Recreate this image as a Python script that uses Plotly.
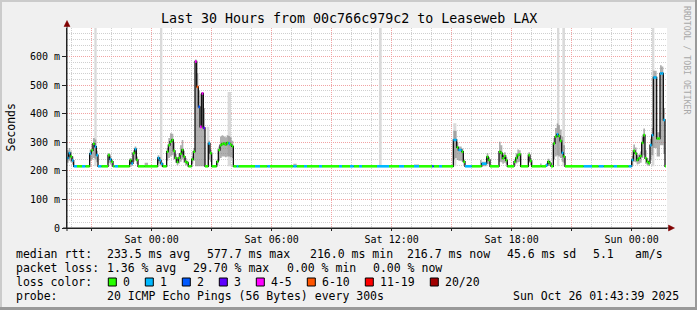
import plotly.graph_objects as go
import pandas as pd

# ---------------- data ----------------
times = [
    "2025-10-24 19:46", "2025-10-24 19:51", "2025-10-24 19:56", "2025-10-24 20:01", "2025-10-24 20:06",
    "2025-10-24 20:16", "2025-10-24 20:31", "2025-10-24 20:41", "2025-10-24 20:54", "2025-10-24 20:59",
    "2025-10-24 21:04", "2025-10-24 21:09", "2025-10-24 21:14", "2025-10-24 21:19", "2025-10-24 21:29",
    "2025-10-24 21:49", "2025-10-24 21:54", "2025-10-24 21:59", "2025-10-24 22:04", "2025-10-24 22:09",
    "2025-10-24 22:19", "2025-10-24 22:54", "2025-10-24 22:59", "2025-10-24 23:04", "2025-10-24 23:09",
    "2025-10-24 23:14", "2025-10-24 23:19", "2025-10-24 23:39", "2025-10-24 23:49",
    "2025-10-25 00:18", "2025-10-25 00:23", "2025-10-25 00:28", "2025-10-25 00:33", "2025-10-25 00:45",
    "2025-10-25 00:50", "2025-10-25 00:55", "2025-10-25 01:00", "2025-10-25 01:05", "2025-10-25 01:10",
    "2025-10-25 01:15", "2025-10-25 01:20", "2025-10-25 01:25", "2025-10-25 01:30", "2025-10-25 01:35",
    "2025-10-25 01:40", "2025-10-25 01:45", "2025-10-25 01:50", "2025-10-25 02:00", "2025-10-25 02:05",
    "2025-10-25 02:10", "2025-10-25 02:15", "2025-10-25 02:20", "2025-10-25 02:25", "2025-10-25 02:30",
    "2025-10-25 02:35", "2025-10-25 02:40", "2025-10-25 02:50", "2025-10-25 02:55", "2025-10-25 03:00",
    "2025-10-25 03:15", "2025-10-25 03:20", "2025-10-25 03:25", "2025-10-25 03:30", "2025-10-25 03:35",
    "2025-10-25 03:40", "2025-10-25 03:45", "2025-10-25 03:50", "2025-10-25 03:55", "2025-10-25 04:00",
    "2025-10-25 04:05", "2025-10-25 04:15", "2025-10-25 04:20", "2025-10-25 05:10", "2025-10-25 05:25",
    "2025-10-25 05:47", "2025-10-25 05:55", "2025-10-25 07:05", "2025-10-25 07:15", "2025-10-25 07:37",
    "2025-10-25 07:46", "2025-10-25 08:22", "2025-10-25 08:31", "2025-10-25 09:22", "2025-10-25 09:31",
    "2025-10-25 09:55", "2025-10-25 10:06", "2025-10-25 10:22", "2025-10-25 10:31", "2025-10-25 11:16",
    "2025-10-25 11:52", "2025-10-25 12:22", "2025-10-25 12:37", "2025-10-25 13:07", "2025-10-25 13:22",
    "2025-10-25 14:01", "2025-10-25 14:06", "2025-10-25 14:22", "2025-10-25 14:31",
    "2025-10-25 15:05", "2025-10-25 15:10", "2025-10-25 15:15", "2025-10-25 15:20", "2025-10-25 15:25",
    "2025-10-25 15:30", "2025-10-25 15:35", "2025-10-25 15:40", "2025-10-25 16:00", "2025-10-25 16:25",
    "2025-10-25 16:30", "2025-10-25 16:45", "2025-10-25 16:50", "2025-10-25 16:55",
    "2025-10-25 17:22", "2025-10-25 17:27", "2025-10-25 17:32", "2025-10-25 17:37", "2025-10-25 17:42",
    "2025-10-25 17:47", "2025-10-25 18:07", "2025-10-25 18:12", "2025-10-25 18:17", "2025-10-25 18:22",
    "2025-10-25 18:27", "2025-10-25 18:50", "2025-10-25 18:55", "2025-10-25 19:00", "2025-10-25 19:25",
    "2025-10-25 19:30", "2025-10-25 19:43", "2025-10-25 19:48", "2025-10-25 19:53", "2025-10-25 19:58",
    "2025-10-25 20:05", "2025-10-25 20:10", "2025-10-25 20:15", "2025-10-25 20:20", "2025-10-25 20:25",
    "2025-10-25 20:30", "2025-10-25 20:35", "2025-10-25 20:40", "2025-10-25 21:36", "2025-10-25 22:01",
    "2025-10-25 22:21", "2025-10-25 22:36", "2025-10-25 23:06", "2025-10-25 23:16", "2025-10-25 23:51",
    "2025-10-26 00:00", "2025-10-26 00:05", "2025-10-26 00:10", "2025-10-26 00:15", "2025-10-26 00:20",
    "2025-10-26 00:25", "2025-10-26 00:30", "2025-10-26 00:35", "2025-10-26 00:40", "2025-10-26 00:45",
    "2025-10-26 00:50", "2025-10-26 00:55", "2025-10-26 01:00", "2025-10-26 01:05", "2025-10-26 01:10",
    "2025-10-26 01:15", "2025-10-26 01:20", "2025-10-26 01:25", "2025-10-26 01:30", "2025-10-26 01:35",
    "2025-10-26 01:40",
]
data_end = "2025-10-26 01:43"

median_ms = [
    245, 262, 250, 236, 216,
    216, 216, 216, 260, 272,
    295, 285, 255, 216, 216,
    255, 240, 232, 216, 216,
    216, 237, 226, 262, 276,
    238, 216, 216, 216,
    245, 237, 225, 216, 267,
    290, 302, 308, 270, 245,
    231, 245, 260, 273, 250,
    232, 228, 216, 240, 267,
    583, 494, 424, 354, 471,
    350, 216, 296, 262, 216,
    232, 273, 290, 294, 296,
    292, 298, 296, 292, 286,
    216, 216, 216, 216, 216,
    216, 216, 216, 216, 216,
    216, 216, 216, 216, 216,
    216, 216, 216, 216, 216,
    216, 216, 216, 216, 216,
    216, 216, 216, 216,
    308, 308, 282, 273, 273,
    267, 232, 216, 216, 216,
    225, 249, 238, 216,
    267, 262, 244, 252, 237,
    216, 232, 245, 255, 258,
    216, 255, 235, 216, 216,
    216, 220, 232, 226, 216,
    296, 320, 328, 322, 305,
    263, 250, 216, 216, 216,
    216, 216, 216, 216, 216,
    238, 270, 261, 238, 244,
    252, 298, 325, 244, 232,
    227, 290, 325, 527, 527,
    313, 313, 541, 541, 378,
    216,
]

loss = [
    1, 1, 0, 1, 1,
    0, 1, 0, 1, 0,
    0, 1, 1, 1, 0,
    0, 1, 0, 0, 1,
    0, 0, 1, 0, 1,
    0, 0, 0, 0,
    1, 1, 1, 0, 0,
    0, 0, 0, 0, 0,
    0, 0, 0, 0, 0,
    0, 0, 0, 0, 0,
    4, 7, 2, 4, 4,
    3, 0, 1, 0, 0,
    0, 0, 0, 0, 0,
    0, 0, 1, 0, 0,
    0, 1, 0, 1, 0,
    1, 0, 1, 0, 1,
    0, 1, 0, 1, 0,
    1, 0, 1, 0, 1,
    0, 1, 0, 1, 0,
    2, 0, 1, 0,
    1, 1, 0, 1, 1,
    0, 0, 1, 0, 0,
    1, 0, 0, 0,
    0, 0, 0, 0, 0,
    0, 0, 0, 0, 0,
    0, 0, 0, 0, 0,
    0, 1, 0, 0, 0,
    0, 0, 1, 0, 0,
    1, 0, 0, 1, 0,
    1, 0, 1, 0, 1,
    1, 0, 0, 0, 0,
    0, 0, 0, 0, 0,
    0, 1, 1, 1, 1,
    0, 0, 1, 1, 1,
    0,
]

smoke_lo_ms = [
    228, 235, 230, 222, 215,
    215, 215, 215, 235, 240,
    245, 240, 230, 215, 215,
    228, 222, 218, 215, 215,
    215, 222, 218, 232, 240,
    224, 215, 215, 215,
    226, 222, 215, 215, 235,
    245, 250, 255, 240, 228,
    220, 226, 232, 240, 228,
    220, 218, 215, 225, 235,
    216, 216, 216, 216, 216,
    216, 215, 240, 232, 215,
    220, 235, 245, 250, 250,
    248, 250, 250, 248, 245,
    215, 215, 215, 215, 215,
    215, 215, 215, 215, 215,
    215, 215, 215, 215, 215,
    215, 215, 215, 215, 215,
    215, 215, 215, 215, 215,
    215, 215, 215, 215,
    240, 245, 238, 235, 235,
    232, 220, 215, 215, 215,
    216, 225, 222, 215,
    232, 230, 225, 228, 222,
    215, 220, 226, 230, 232,
    215, 228, 220, 215, 215,
    215, 216, 218, 217, 215,
    240, 250, 255, 250, 245,
    232, 228, 215, 215, 215,
    215, 215, 215, 215, 215,
    220, 232, 230, 222, 225,
    228, 245, 255, 225, 220,
    217, 240, 255, 280, 280,
    250, 250, 290, 290, 260,
    215,
]

smoke_hi_ms = [
    272, 280, 268, 250, 218,
    218, 218, 218, 275, 295,
    315, 310, 270, 218, 218,
    262, 250, 240, 218, 218,
    218, 245, 238, 272, 285,
    250, 218, 228, 218,
    255, 248, 230, 218, 280,
    315, 332, 330, 300, 260,
    240, 262, 290, 308, 270,
    245, 235, 218, 250, 280,
    590, 542, 480, 470, 476,
    420, 218, 305, 275, 218,
    240, 285, 320, 325, 320,
    318, 325, 322, 318, 305,
    218, 218, 218, 218, 218,
    218, 218, 225, 218, 218,
    218, 218, 218, 218, 218,
    218, 218, 218, 218, 218,
    218, 218, 218, 222, 218,
    218, 218, 218, 218,
    340, 340, 300, 285, 285,
    278, 240, 218, 218, 238,
    232, 262, 248, 218,
    302, 290, 262, 265, 248,
    218, 240, 262, 275, 272,
    218, 265, 245, 218, 226,
    218, 226, 242, 235, 218,
    315, 350, 366, 360, 345,
    320, 290, 218, 218, 218,
    218, 218, 218, 218, 218,
    252, 292, 282, 255, 258,
    268, 318, 348, 272, 245,
    236, 312, 350, 550, 550,
    335, 335, 570, 565, 420,
    218,
]

# lightest smoke: single outlier pings (start, end, top)
outlier_start = ["2025-10-24 21:08", "2025-10-25 00:25", "2025-10-25 02:45", "2025-10-25 03:48",
                 "2025-10-25 11:22", "2025-10-25 15:05", "2025-10-25 20:16", "2025-10-25 20:32",
                 "2025-10-26 01:01"]
outlier_end = ["2025-10-24 21:15", "2025-10-25 00:32", "2025-10-25 02:53", "2025-10-25 03:58",
               "2025-10-25 11:30", "2025-10-25 15:14", "2025-10-25 20:23", "2025-10-25 20:40",
               "2025-10-26 01:08"]
outlier_top_ms = [700, 700, 354, 476, 700, 367, 700, 700, 700]

x_range = ["2025-10-24 19:46", "2025-10-26 01:46"]
x_tick_times = ["2025-10-24 21:00", "2025-10-25 00:00", "2025-10-25 03:00", "2025-10-25 06:00",
                "2025-10-25 09:00", "2025-10-25 12:00", "2025-10-25 15:00", "2025-10-25 18:00",
                "2025-10-25 21:00", "2025-10-26 00:00"]
x_tick_labels = ["", "Sat 00:00", "", "Sat 06:00", "", "Sat 12:00", "", "Sat 18:00", "", "Sun 00:00"]
y_tick_vals = [0, 0.1, 0.2, 0.3, 0.4, 0.5, 0.6]
y_tick_labels = ["0", "100 m", "200 m", "300 m", "400 m", "500 m", "600 m"]
y_max = 0.7

loss_labels = ["0", "1", "2", "3", "4-5", "6-10", "11-19", "20/20"]
loss_colors = ["#26ff00", "#00b8ff", "#0059ff", "#5e00ff", "#ff00ff", "#ff5500", "#ff0000", "#a10000"]
loss_upper = [0, 1, 2, 3, 5, 10, 19, 20]

title_text = "Last 30 Hours from 00c766c979c2 to Leaseweb LAX"
stats_rows = [
    [(16, "median rtt:"), (107.3, "233.5 ms avg"), (207.3, "577.7 ms max"), (309.5, "216.0 ms min"),
     (407.3, "216.7 ms now"), (506.7, "45.6 ms sd"), (592.7, "5.1"), (635, "am/s")],
    [(16, "packet loss:"), (107.3, "1.36 % avg"), (193, "29.70 % max"), (286.5, "0.00 % min"),
     (372.7, "0.00 % now")],
    [(16, "loss color:")],
    [(16, "probe:"), (107.3, "20 ICMP Echo Pings (56 Bytes) every 300s"), (513.3, "Sun Oct 26 01:43:39 2025")],
]

# ---------------- geometry helpers (pixel -> paper) ----------------
L, R, T, B = 67, 667, 28, 228
W, H = 697, 310


def PX(px):
    return (px - L) / (R - L)


def PY(py):
    return (B - py) / (B - T)


def loss_class(n):
    for i, up in enumerate(loss_upper):
        if n <= up:
            return i
    return len(loss_upper) - 1


t_all = list(pd.to_datetime(times + [data_end]))
med_s = [v / 1000 for v in median_ms]
lo_s = [v / 1000 for v in smoke_lo_ms]
hi_s = [v / 1000 for v in smoke_hi_ms]

fig = go.Figure()

# outlier (lightest smoke) columns
ox, oy = [], []
for s, e, top in zip(outlier_start, outlier_end, outlier_top_ms):
    s, e = pd.Timestamp(s), pd.Timestamp(e)
    ox += [s, s, e, e, s, None]
    oy += [0.216, top / 1000, top / 1000, 0.216, 0.216, None]
fig.add_trace(go.Scatter(x=ox, y=oy, mode="lines", fill="toself", fillcolor="#DADADA",
                         line=dict(width=0, color="#DADADA"), hoverinfo="skip"))

# smoke band
fig.add_trace(go.Scatter(x=t_all, y=lo_s + [lo_s[-1]], mode="lines", line=dict(width=0, shape="hv"),
                         hoverinfo="skip"))
fig.add_trace(go.Scatter(x=t_all, y=hi_s + [hi_s[-1]], mode="lines", fill="tonexty",
                         fillcolor="rgba(128,128,128,0.62)", line=dict(width=0, shape="hv"),
                         hoverinfo="skip"))

# median (black step line)
fig.add_trace(go.Scatter(x=t_all, y=med_s + [med_s[-1]], mode="lines",
                         line=dict(color="#111111", width=1.3, shape="hv"), hoverinfo="skip"))

# loss-coloured median segments
seg_x = {i: [] for i in range(len(loss_colors))}
seg_y = {i: [] for i in range(len(loss_colors))}
for i in range(len(times)):
    c = loss_class(loss[i])
    seg_x[c] += [t_all[i], t_all[i + 1], None]
    seg_y[c] += [med_s[i], med_s[i], None]
for c in range(len(loss_colors)):
    if seg_x[c]:
        fig.add_trace(go.Scatter(x=seg_x[c], y=seg_y[c], mode="lines",
                                 line=dict(color=loss_colors[c], width=2.6), hoverinfo="skip"))

mono = "DejaVu Sans Mono"
major_grid = "#F1A3A3"
minor_grid = "#CFCFCF"

minor_x = list(pd.date_range("2025-10-24 20:00", "2025-10-26 01:00", freq="1h"))
minor_y = [round(0.02 * k, 2) for k in range(0, 36)]

fig.update_layout(
    width=W, height=H,
    margin=dict(l=L, r=W - R, t=T, b=H - B, pad=0),
    paper_bgcolor="#F0F0F0", plot_bgcolor="#FFFFFF",
    showlegend=False,
    font=dict(family=mono, size=10, color="#000000"),
    xaxis=dict(
        type="date", range=x_range, tickmode="array", tickvals=x_tick_times, ticktext=x_tick_labels,
        showgrid=True, gridcolor=major_grid, griddash="1px,1px", gridwidth=1,
        showline=True, linecolor="#222222", linewidth=1,
        ticks="outside", ticklen=2, tickcolor="#222222",
        tickfont=dict(family=mono, size=10, color="#000000"),
        zeroline=False, fixedrange=True,
        minor=dict(tickmode="array", tickvals=minor_x, showgrid=True, gridcolor=minor_grid,
                   griddash="1px,1px", gridwidth=1, ticks=""),
    ),
    yaxis=dict(
        range=[0, y_max], tickmode="array", tickvals=y_tick_vals, ticktext=y_tick_labels,
        showgrid=True, gridcolor=major_grid, griddash="1px,1px", gridwidth=1,
        showline=True, linecolor="#222222", linewidth=1,
        ticks="outside", ticklen=4, tickcolor="#222222",
        tickfont=dict(family=mono, size=10, color="#000000"),
        zeroline=False, fixedrange=True,
        minor=dict(tickmode="array", tickvals=minor_y, showgrid=True, gridcolor=minor_grid,
                   griddash="1px,1px", gridwidth=1, ticks=""),
    ),
)

shapes = []
# frame
shapes.append(dict(type="rect", xref="paper", yref="paper", x0=PX(0), x1=PX(W), y0=PY(0), y1=PY(2),
                   fillcolor="#CBCBCB", line=dict(width=0), layer="above"))
shapes.append(dict(type="rect", xref="paper", yref="paper", x0=PX(0), x1=PX(2), y0=PY(0), y1=PY(H),
                   fillcolor="#CBCBCB", line=dict(width=0), layer="above"))
shapes.append(dict(type="rect", xref="paper", yref="paper", x0=PX(0), x1=PX(W), y0=PY(H - 3), y1=PY(H),
                   fillcolor="#999999", line=dict(width=0), layer="above"))
shapes.append(dict(type="rect", xref="paper", yref="paper", x0=PX(W - 2), x1=PX(W), y0=PY(0), y1=PY(H),
                   fillcolor="#999999", line=dict(width=0), layer="above"))
# axis extensions + arrows
shapes.append(dict(type="line", xref="paper", yref="paper", x0=PX(63), x1=PX(670), y0=0, y1=0,
                   line=dict(color="#222222", width=1), layer="above"))
shapes.append(dict(type="line", xref="paper", yref="paper", x0=0, x1=0, y0=PY(231), y1=PY(24),
                   line=dict(color="#222222", width=1), layer="above"))
shapes.append(dict(type="path", xref="paper", yref="paper",
                   path=f"M {PX(668.5)} {PY(225)} L {PX(674.5)} {PY(228)} L {PX(668.5)} {PY(231)} Z",
                   fillcolor="#800000", line=dict(color="#800000", width=0.5), layer="above"))
shapes.append(dict(type="path", xref="paper", yref="paper",
                   path=f"M {PX(64)} {PY(26.5)} L {PX(67)} {PY(20.5)} L {PX(70)} {PY(26.5)} Z",
                   fillcolor="#800000", line=dict(color="#800000", width=0.5), layer="above"))

annotations = []


def add_text(px, py, text, size=11.5, color="#000000", xanchor="left", angle=0):
    annotations.append(dict(x=PX(px), y=PY(py), xref="paper", yref="paper", text=text, showarrow=False,
                            xanchor=xanchor, yanchor="middle", textangle=angle, borderpad=0, borderwidth=0,
                            font=dict(family=mono, size=size, color=color)))


add_text(348.5, 18.5, title_text, size=13.3, xanchor="center")
add_text(10.5, 128, "Seconds", size=11.5, xanchor="center", angle=-90)
add_text(687, 60, "RRDTOOL / TOBI OETIKER", size=8.2, color="#A8A8A8", xanchor="center", angle=90)

row_y = [254, 268, 282, 296]
for ry, row in zip(row_y, stats_rows):
    for px, txt in row:
        add_text(px, ry, txt)

# loss colour legend boxes
bx = 108.3
for lab, col in zip(loss_labels, loss_colors):
    shapes.append(dict(type="rect", xref="paper", yref="paper", x0=PX(bx), x1=PX(bx + 8),
                       y0=PY(286), y1=PY(278), fillcolor=col, line=dict(color="#000000", width=1),
                       layer="above"))
    add_text(bx + 15, row_y[2], lab)
    bx += 30 + 7 * len(lab)

fig.update_layout(shapes=shapes, annotations=annotations)
fig.write_html("out.html")
